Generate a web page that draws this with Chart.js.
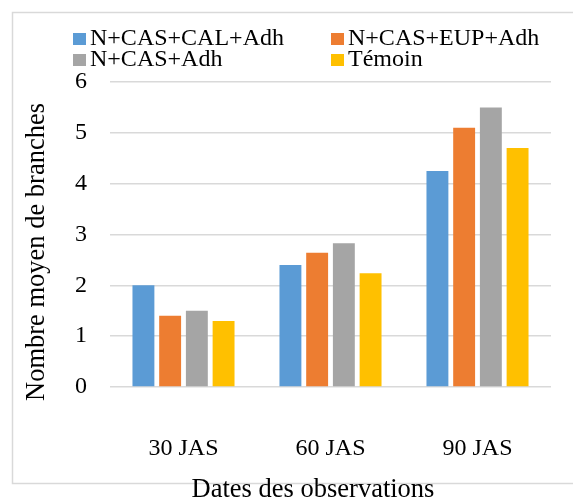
<!DOCTYPE html>
<html>
<head>
<meta charset="utf-8">
<script src="https://cdn.jsdelivr.net/npm/chart.js@4.4.1/dist/chart.umd.min.js"></script>
<style>
  html, body { margin: 0; padding: 0; background: #fff; overflow: hidden; }
  #wrap { position: relative; width: 573px; height: 497px; }
</style>
</head>
<body>
<div id="wrap"><canvas id="chart"></canvas></div>
<script>
const categories = ['30 JAS', '60 JAS', '90 JAS'];
const seriesNames = ['N+CAS+CAL+Adh', 'N+CAS+EUP+Adh', 'N+CAS+Adh', 'Témoin'];
const calValues = [2.0, 2.4, 4.25];
const eupValues = [1.4, 2.64, 5.1];
const casValues = [1.5, 2.83, 5.5];
const temoinValues = [1.3, 2.24, 4.7];
const yTicks = [0, 1, 2, 3, 4, 5, 6];
const xTitle = 'Dates des observations';
const yTitle = 'Nombre moyen de branches';

const colors = ['#5B9BD5', '#ED7D31', '#A5A5A5', '#FFC000'];
const allValues = [calValues, eupValues, casValues, temoinValues];
const serif = '"Liberation Serif", "Times New Roman", serif';

Chart.defaults.font.family = serif;
Chart.defaults.color = '#000';

// frame, axis titles and two-column legend like the Excel original
const excelDecor = {
  id: 'excelDecor',
  beforeDraw(chart) {
    const ctx = chart.ctx;
    ctx.save();
    ctx.fillStyle = '#fff';
    ctx.fillRect(0, 0, chart.width, chart.height);
    ctx.strokeStyle = '#d9d9d9';
    ctx.lineWidth = 1.5;
    ctx.strokeRect(12.5, 12.5, chart.width + 20, 471);
    ctx.restore();
  },
  afterDraw(chart) {
    const ctx = chart.ctx;
    ctx.save();
    ctx.font = '24px ' + serif;
    ctx.textBaseline = 'alphabetic';
    chart.data.datasets.forEach((ds, i) => {
      const col = i % 2, row = Math.floor(i / 2);
      const bx = col === 0 ? 73 : 331;
      const by = row === 0 ? 33 : 54;
      ctx.fillStyle = ds.backgroundColor;
      ctx.fillRect(bx, by, 13, 12);
      ctx.fillStyle = '#000';
      ctx.fillText(ds.label, bx + 17, by + 12);
    });

    ctx.font = '26.5px ' + serif;
    ctx.textAlign = 'center';
    ctx.fillText(xTitle, 313, 497);
    ctx.translate(44, 252);
    ctx.rotate(-Math.PI / 2);
    ctx.fillText(yTitle, 0, 0);
    ctx.restore();
  }
};

new Chart(document.getElementById('chart'), {
  type: 'bar',
  data: {
    labels: categories,
    datasets: seriesNames.map((name, i) => ({
      label: name,
      data: allValues[i],
      backgroundColor: colors[i],
      barPercentage: 0.82,
      categoryPercentage: 0.727
    }))
  },
  options: {
    responsive: true,
    maintainAspectRatio: false,
    animation: false,
    layout: { padding: { top: 82, right: 22, left: 0, bottom: 0 } },
    plugins: {
      legend: { display: false },
      tooltip: { enabled: false }
    },
    scales: {
      x: {
        grid: { display: false },
        border: { display: false },
        ticks: { font: { size: 24 }, padding: 39 },
        afterFit: s => { s.height = 110; }
      },
      y: {
        min: 0,
        max: 6,
        afterBuildTicks: s => { s.ticks = yTicks.map(v => ({ value: v })); },
        grid: { color: '#d9d9d9', lineWidth: 1.5, drawTicks: false },
        border: { display: false },
        ticks: { font: { size: 24 }, padding: 23 },
        afterFit: s => { s.width = 110; }
      }
    }
  },
  plugins: [excelDecor]
});
</script>
</body>
</html>
